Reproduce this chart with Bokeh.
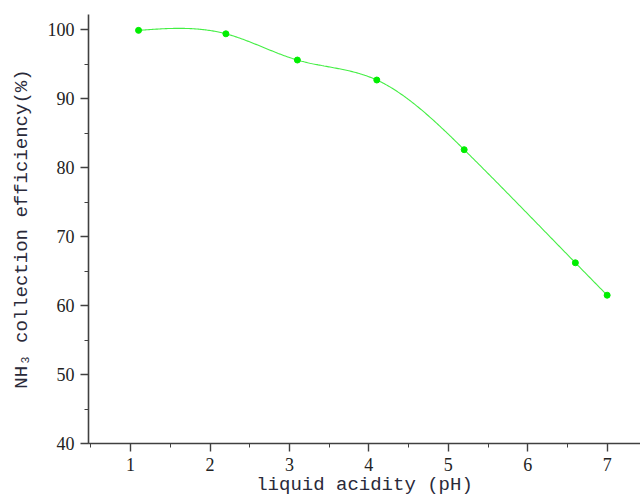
import numpy as np
from bokeh.plotting import figure
from bokeh.models import Range1d, SingleIntervalTicker
from bokeh.embed import file_html
from bokeh.resources import INLINE

ph = [1.1, 2.2, 3.1, 4.1, 5.2, 6.6, 7.0]
efficiency = [99.9, 99.4, 95.6, 92.7, 82.6, 66.2, 61.5]
x_title = "liquid acidity (pH)"
y_title = "NH\u2083 collection efficiency(%)"


def natural_spline(x, y, n=400):
    x = np.asarray(x, float)
    y = np.asarray(y, float)
    k = len(x)
    h = np.diff(x)
    A = np.zeros((k, k))
    b = np.zeros(k)
    A[0, 0] = A[-1, -1] = 1.0
    for i in range(1, k - 1):
        A[i, i - 1] = h[i - 1]
        A[i, i] = 2 * (h[i - 1] + h[i])
        A[i, i + 1] = h[i]
        b[i] = 6 * ((y[i + 1] - y[i]) / h[i] - (y[i] - y[i - 1]) / h[i - 1])
    M = np.linalg.solve(A, b)
    xs = np.linspace(x[0], x[-1], n)
    idx = np.clip(np.searchsorted(x, xs) - 1, 0, k - 2)
    x0, x1 = x[idx], x[idx + 1]
    hh = x1 - x0
    ys = (M[idx] * (x1 - xs) ** 3 / (6 * hh) + M[idx + 1] * (xs - x0) ** 3 / (6 * hh)
          + (y[idx] / hh - M[idx] * hh / 6) * (x1 - xs)
          + (y[idx + 1] / hh - M[idx + 1] * hh / 6) * (xs - x0))
    return xs, ys


p = figure(width=640, height=501, output_backend="svg", toolbar_location=None,
           x_range=Range1d(0.47, 7.42), y_range=Range1d(40, 102.2),
           min_border_left=88, min_border_top=14, min_border_right=0, min_border_bottom=58)
p.outline_line_color = None
p.xgrid.visible = False
p.ygrid.visible = False
p.background_fill_color = "white"
p.border_fill_color = "white"

sx, sy = natural_spline(ph, efficiency)
p.line(sx, sy, line_color="#44ee44", line_width=1.1)
p.scatter(ph, efficiency, size=6, fill_color="#00ee00", line_color="#00ee00")

for ax in (p.xaxis[0], p.yaxis[0]):
    ax.axis_line_color = "#404040"
    ax.axis_line_width = 1.6
    ax.major_tick_line_color = "#404040"
    ax.minor_tick_line_color = "#404040"
    ax.major_tick_line_width = 1.4
    ax.major_tick_in = 0
    ax.major_tick_out = 8
    ax.minor_tick_in = 0
    ax.minor_tick_out = 4
    ax.major_label_text_font = "Liberation Serif"
    ax.major_label_text_font_size = "18px"
    ax.major_label_text_color = "#222222"
    ax.axis_label_text_font = "Liberation Mono"
    ax.axis_label_text_font_size = "19px"
    ax.axis_label_text_font_style = "normal"
    ax.axis_label_text_color = "#2a2a3a"

p.xaxis.ticker = SingleIntervalTicker(interval=1, num_minor_ticks=2)
p.yaxis.ticker = SingleIntervalTicker(interval=10, num_minor_ticks=2)
p.xaxis.axis_label = x_title
p.yaxis.axis_label = y_title
p.xaxis.major_label_standoff = 6
p.yaxis.major_label_standoff = 6
p.xaxis.axis_label_standoff = 0
p.yaxis.axis_label_standoff = 12

open("out.html", "w").write(file_html(p, INLINE))
